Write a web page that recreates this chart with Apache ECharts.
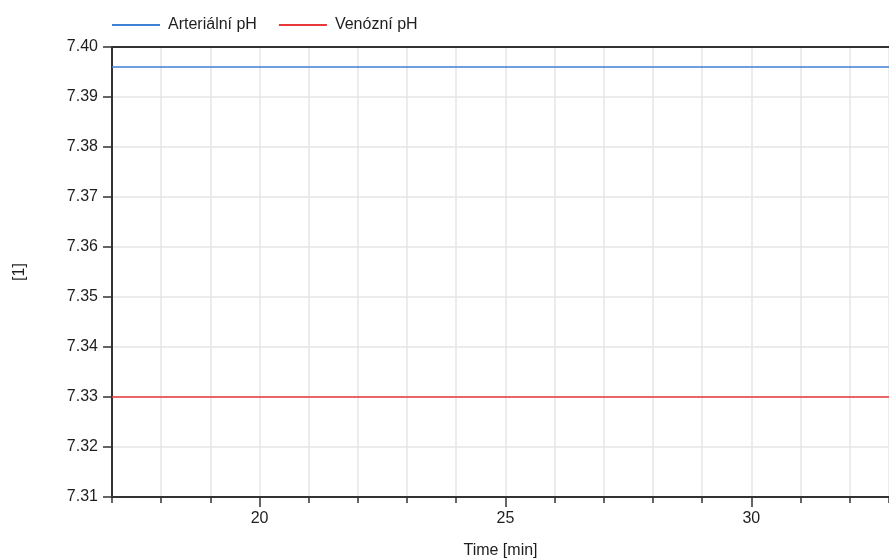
<!DOCTYPE html>
<html>
<head>
<meta charset="utf-8">
<script src="https://cdn.jsdelivr.net/npm/echarts@6/dist/echarts.min.js"></script>
<style>
  html, body { margin: 0; padding: 0; background: #fff; }
  #chart { width: 889px; height: 560px; }
</style>
</head>
<body>
<div id="chart"></div>
<script>
// Time samples (minutes) and the two pH traces
const timeMin = [17, 32.8];
const arterialPH = [7.396, 7.396];
const venousPH = [7.33, 7.33];
const seriesNames = ['Arteriální pH', 'Venózní pH'];
const majorTicks = [20, 25, 30];

const FONT = 'Liberation Sans, Arial, sans-serif';
const FS = 16;
const TEXT = '#1e1e1e';
const AXIS = '#333';

const chart = echarts.init(document.getElementById('chart'));

const pairs = (xs, ys) => xs.map((x, i) => [x, ys[i]]);

chart.setOption({
  animation: false,
  textStyle: { fontFamily: FONT },
  grid: { left: 112, right: 0, top: 47, bottom: 63, containLabel: false, outerBoundsMode: 'none' },
  legend: {
    left: 107, top: 12,
    itemWidth: 48, itemHeight: 2, itemGap: 22,
    textStyle: { fontSize: FS, color: TEXT, fontFamily: FONT, padding: [0, 0, 0, 3] },
    data: seriesNames.map(n => ({ name: n, icon: 'rect' }))
  },
  xAxis: [
    {
      type: 'value', position: 'bottom', min: 17, max: 32.8, interval: 1,
      name: 'Time [min]', nameLocation: 'middle', nameGap: 46,
      nameTextStyle: { fontSize: FS, color: TEXT, fontFamily: FONT },
      axisLine: { show: true, onZero: false, lineStyle: { color: AXIS, width: 2 } },
      axisTick: { show: true, length: 6, lineStyle: { color: AXIS, width: 1.5 } },
      axisLabel: { show: false },
      splitLine: { show: true, lineStyle: { color: '#e6e6e6', width: 1.5 } }
    },
    {
      type: 'value', position: 'bottom', min: 17, max: 32.8,
      axisLine: { show: false },
      axisTick: { show: true, length: 10, customValues: majorTicks, lineStyle: { color: AXIS, width: 1.5 } },
      axisLabel: { show: true, customValues: majorTicks, fontSize: FS, color: TEXT, margin: 14, fontFamily: FONT },
      splitLine: { show: false }
    },
    {
      type: 'value', position: 'top', min: 17, max: 32.8,
      axisLine: { show: true, onZero: false, lineStyle: { color: AXIS, width: 2 } },
      axisTick: { show: false }, axisLabel: { show: false }, splitLine: { show: false }
    }
  ],
  yAxis: {
    type: 'value', min: 7.31, max: 7.40, interval: 0.01,
    name: '[1]', nameLocation: 'middle', nameGap: 84,
    nameTextStyle: { fontSize: FS, color: TEXT, fontFamily: FONT },
    axisLine: { show: true, onZero: false, lineStyle: { color: AXIS, width: 2 } },
    axisTick: { show: true, length: 9, lineStyle: { color: AXIS, width: 1.5 } },
    axisLabel: { fontSize: FS, color: TEXT, margin: 14, fontFamily: FONT,
      formatter: v => v.toFixed(2) },
    splitLine: { show: true, lineStyle: { color: '#e6e6e6', width: 1.5 } }
  },
  series: [
    {
      name: seriesNames[0], type: 'line', xAxisIndex: 0, symbol: 'none',
      data: pairs(timeMin, arterialPH),
      lineStyle: { color: '#3f7fd6', width: 1.5 }, itemStyle: { color: '#3f7fd6' }
    },
    {
      name: seriesNames[1], type: 'line', xAxisIndex: 0, symbol: 'none',
      data: pairs(timeMin, venousPH),
      lineStyle: { color: '#e8383a', width: 1.5 }, itemStyle: { color: '#e8383a' }
    }
  ]
});
</script>
</body>
</html>
